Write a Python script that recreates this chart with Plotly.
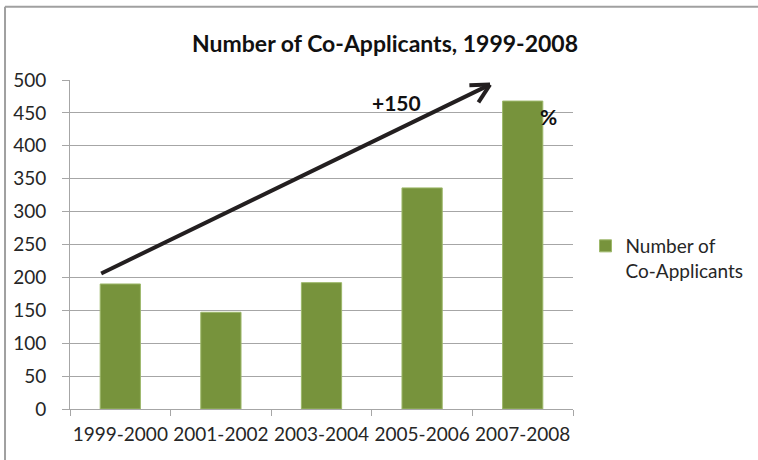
import plotly.graph_objects as go

# Number of co-applicants per two-year period
periods = ["1999-2000", "2001-2002", "2003-2004", "2005-2006", "2007-2008"]
co_applicants = [190, 147, 192, 336, 468]
y_ticks = [0, 50, 100, 150, 200, 250, 300, 350, 400, 450, 500]

BAR_COLOR = "#77933C"
GRID_COLOR = "#A6A6A6"
TEXT_COLOR = "#262626"
FONT = "Lato"

fig = go.Figure()
fig.add_trace(go.Bar(
    x=periods,
    y=co_applicants,
    name="Number of<br>Co-Applicants",
    marker=dict(color=BAR_COLOR, line=dict(color="#9DB86A", width=1)),
    showlegend=True,
))

# Growth arrow with an open chevron head (data coordinates)
x0, y0 = -0.19, 206
x1, y1 = 3.675, 493
fig.add_shape(type="line", xref="x", yref="y", x0=x0, y0=y0, x1=x1, y1=y1,
              line=dict(color="#231F20", width=4))
fig.add_shape(type="line", xref="x", yref="y", x0=3.47, y0=492, x1=x1, y1=y1,
              line=dict(color="#231F20", width=4))
fig.add_shape(type="line", xref="x", yref="y", x0=3.56, y0=466, x1=x1, y1=y1,
              line=dict(color="#231F20", width=4))

fig.add_annotation(x=2.75, y=466, xref="x", yref="y", text="<b>+150</b>",
                   showarrow=False, font=dict(family=FONT, size=21, color="#111111"))
fig.add_annotation(x=4.26, y=445, xref="x", yref="y", text="<b>%</b>",
                   showarrow=False, font=dict(family=FONT, size=21, color="#111111"))

# Chart frame (top and left edges)
fig.add_shape(type="line", xref="paper", yref="paper",
              x0=-0.1292, y0=1.2224, x1=1.37, y1=1.2224,
              line=dict(color="#A0A0A0", width=2))
fig.add_shape(type="line", xref="paper", yref="paper",
              x0=-0.1292, y0=1.2224, x1=-0.1292, y1=-0.16,
              line=dict(color="#A0A0A0", width=2))

fig.update_layout(
    width=758, height=460,
    margin=dict(l=70, r=185, t=80, b=51, autoexpand=False),
    paper_bgcolor="white", plot_bgcolor="white",
    bargap=0.6,
    font=dict(family=FONT, size=19, color=TEXT_COLOR),
    title=dict(text="<b>Number of Co-Applicants, 1999-2008</b>",
               x=0.508, xanchor="center", xref="container",
               y=1 - 44 / 460, yanchor="middle", yref="container",
               font=dict(family=FONT, size=23, color="#111111")),
    legend=dict(x=585.5 / 758, y=0.438, xref="container", yref="container",
                xanchor="left", yanchor="middle",
                valign="top", font=dict(family=FONT, size=19, color=TEXT_COLOR),
                itemwidth=30),
)

fig.update_xaxes(
    type="category", range=[-0.5, 4.5], automargin=False,
    tickangle=0, tickfont=dict(size=19),
    showline=True, linecolor=GRID_COLOR, linewidth=1,
    ticks="outside", tickson="boundaries", ticklen=6, tickcolor=GRID_COLOR,
    ticklabelstandoff=8, showgrid=False,
)
fig.update_yaxes(
    range=[0, 500], tickvals=y_ticks, automargin=False,
    showline=True, linecolor=GRID_COLOR, linewidth=1,
    ticks="outside", ticklen=7, tickcolor=GRID_COLOR,
    ticklabelstandoff=12,
    showgrid=True, gridcolor=GRID_COLOR, gridwidth=1, zeroline=False,
)

fig.write_html("out.html")
